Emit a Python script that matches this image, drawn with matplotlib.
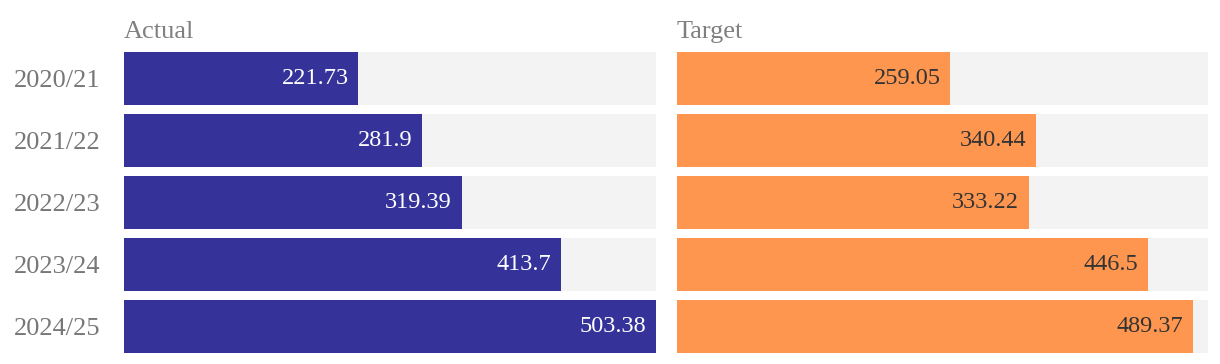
import matplotlib.pyplot as plt

years = ['2020/21', '2021/22', '2022/23', '2023/24', '2024/25']
actual = [221.73, 281.9, 319.39, 413.7, 503.38]
target = [259.05, 340.44, 333.22, 446.5, 489.37]

plt.rcParams['font.family'] = ['Liberation Serif', 'DejaVu Serif']

fig = plt.figure(figsize=(12.2, 3.64), dpi=100)
ax1 = fig.add_axes([0.1016, 0.0302, 0.4361, 0.8269])
ax2 = fig.add_axes([0.5549, 0.0302, 0.4353, 0.8269])

vmax = max(max(actual), max(target))
ypos = list(range(len(years)))

panels = [(ax1, actual, '#35339a', 'white', 'Actual'),
          (ax2, target, '#ff964f', '#333333', 'Target')]
for ax, vals, col, tcol, title in panels:
    ax.barh(ypos, [vmax] * len(vals), height=0.855, color='#f3f3f3')
    ax.barh(ypos, vals, height=0.855, color=col)
    for y, v in zip(ypos, vals):
        ax.annotate(f'{v:g}', (v, y), xytext=(-7, 0), textcoords='offset points',
                    ha='right', va='center', fontsize=17.5, color=tcol)
    ax.set_xlim(0, vmax)
    ax.set_ylim(len(years) - 0.5725, -0.4275)
    ax.set_xticks([])
    for s in ax.spines.values():
        s.set_visible(False)
    ax.text(0, 1.03, title, transform=ax.transAxes, fontsize=19, color='#808080',
            ha='left', va='bottom')

ax1.set_yticks(ypos)
ax1.set_yticklabels(years, fontsize=19, color='#777777')
ax1.tick_params(axis='y', length=0, pad=17)
ax2.set_yticks([])

fig.savefig('out.png', dpi=100)
